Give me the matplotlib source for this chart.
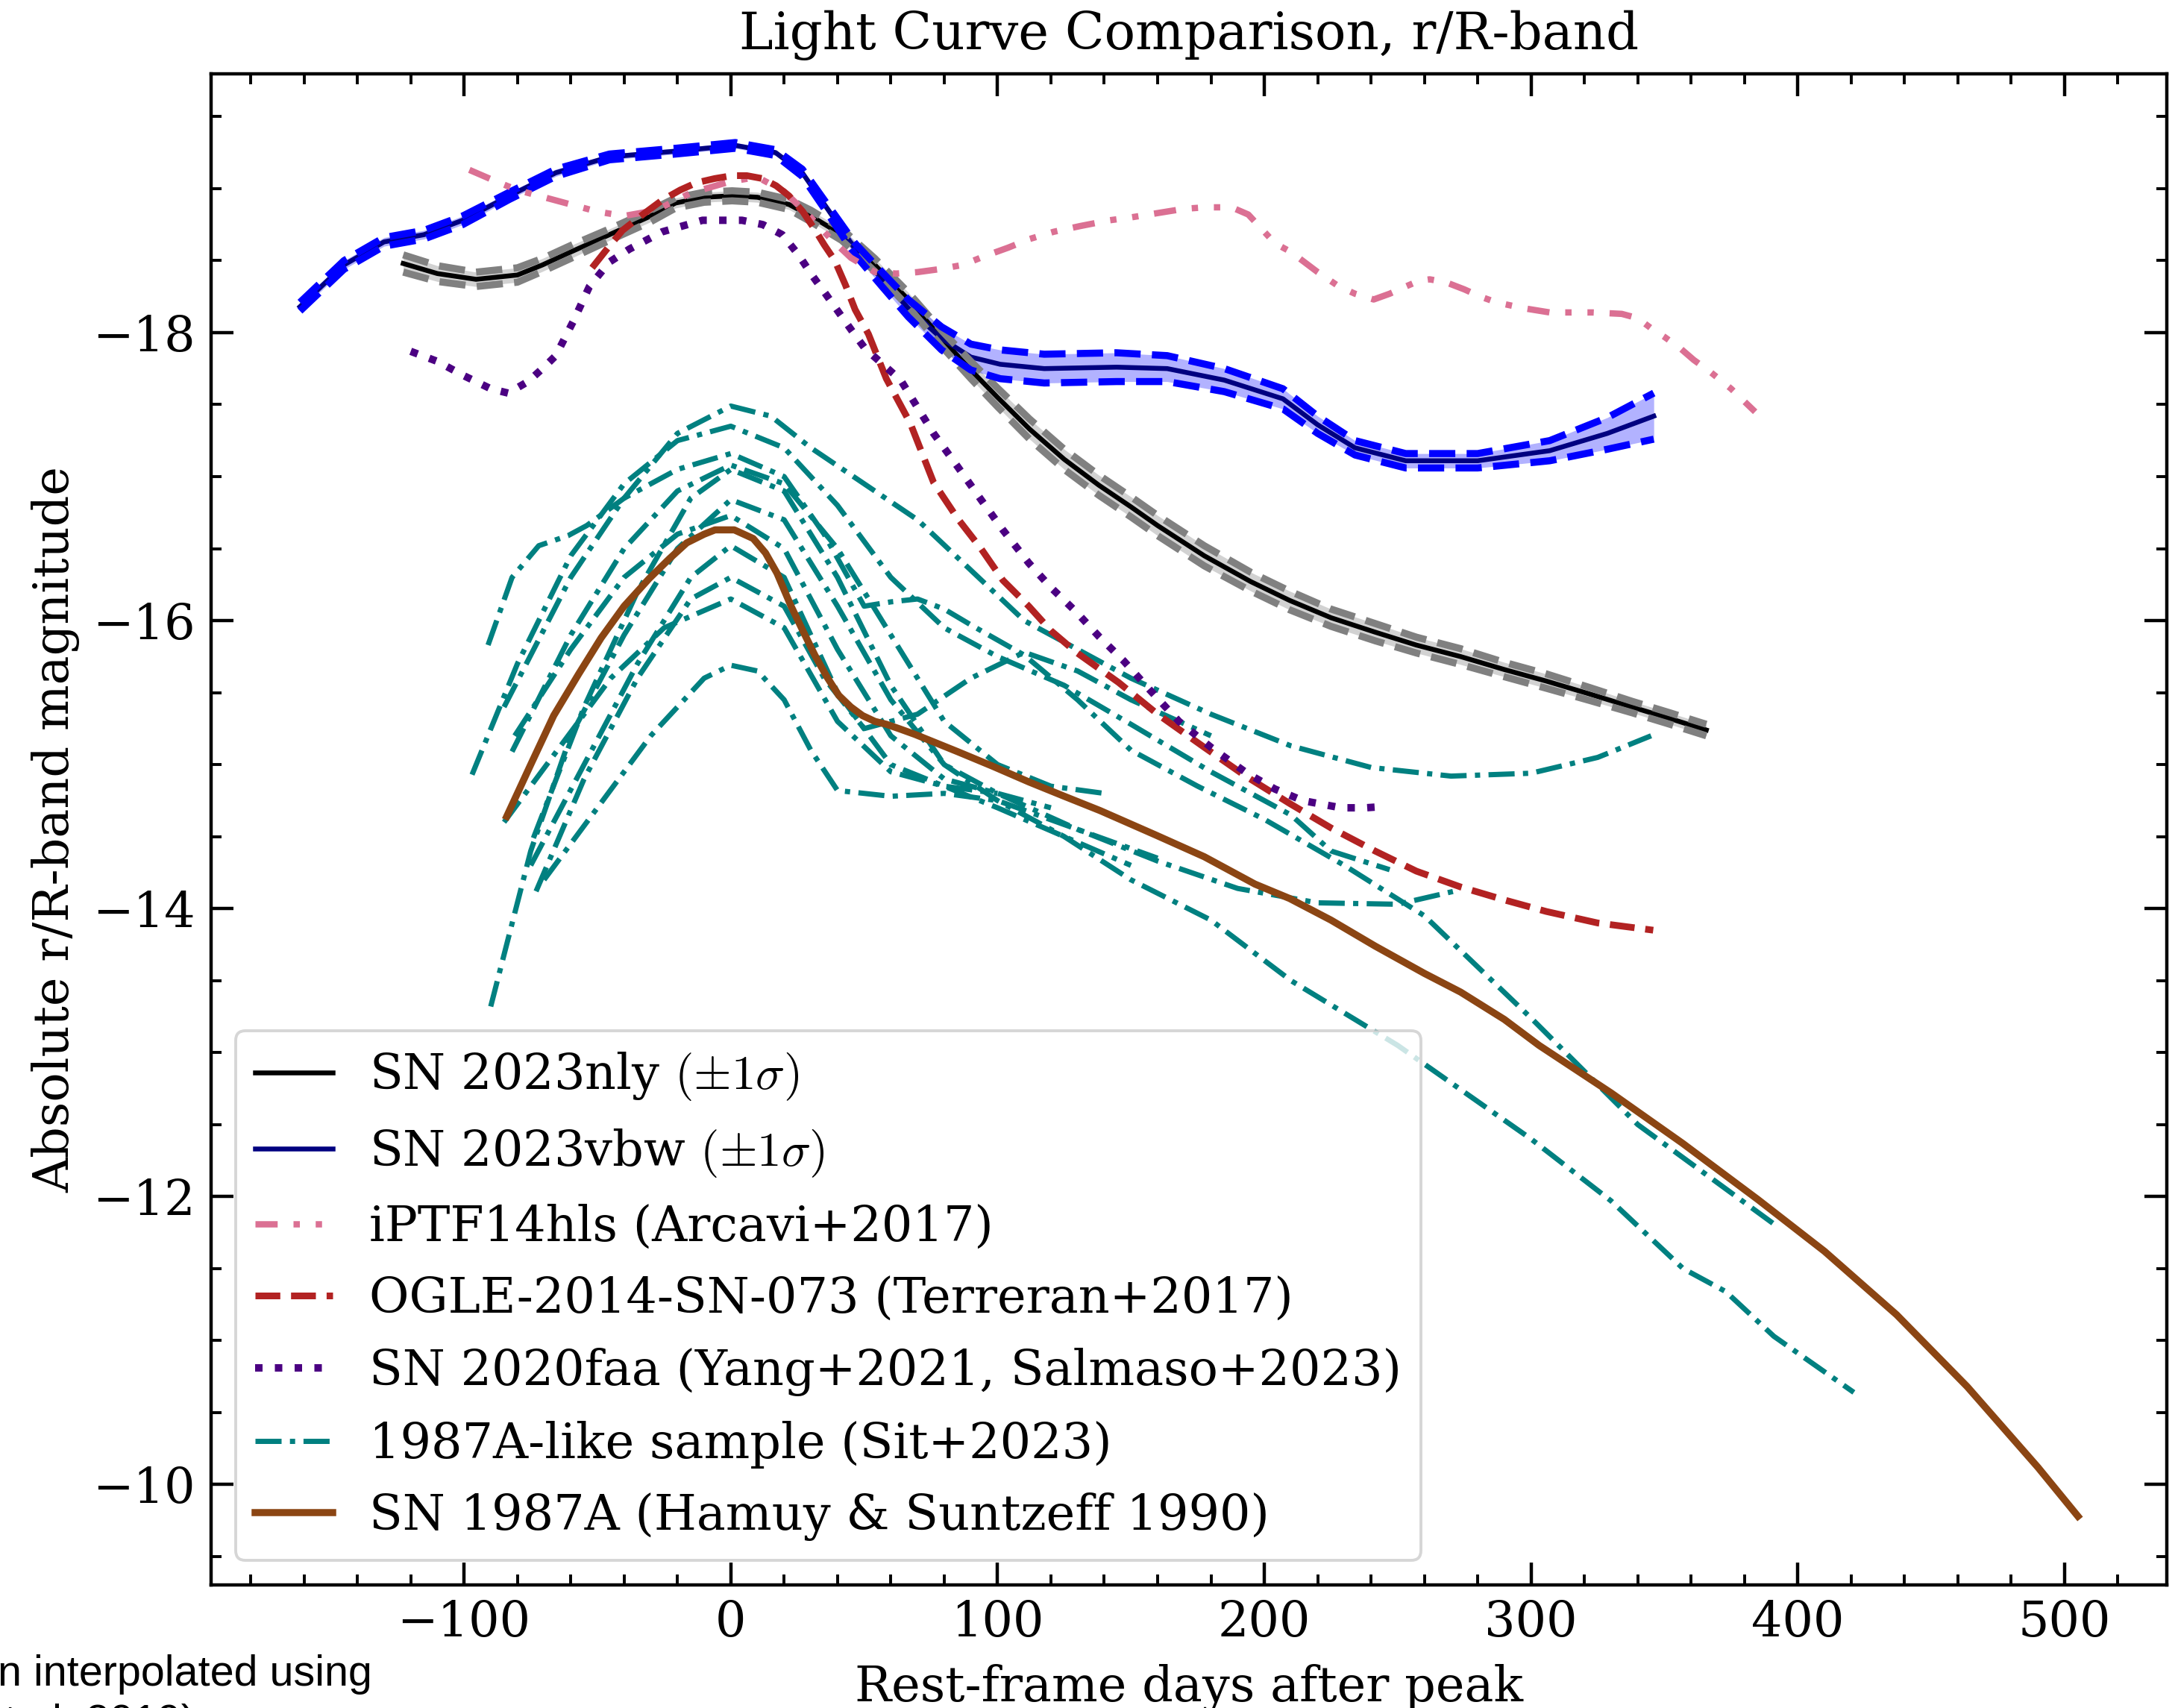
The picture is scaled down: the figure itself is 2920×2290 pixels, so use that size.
import numpy as np
import matplotlib
matplotlib.use("Agg")
import matplotlib.pyplot as plt

# ---------------- data ----------------
nly_x = [-122.8, -110, -95.5, -80, -70.6, -60, -45.5, -30, -20.7, -10, 0.5, 10, 21.8, 30, 41.6, 54,
         66.5, 79, 90, 100, 112, 125, 138, 150, 160, 177.5, 195, 209.5, 225, 241.5, 257, 273.6,
         290, 305.7, 322, 337.8, 352, 365.7]
nly_y = [-18.48, -18.41, -18.37, -18.40, -18.47, -18.56, -18.68, -18.81, -18.90, -18.94, -18.95,
         -18.94, -18.89, -18.81, -18.68, -18.47, -18.23, -17.96, -17.74, -17.55, -17.33, -17.12,
         -16.94, -16.79, -16.66, -16.45, -16.27, -16.14, -16.02, -15.92, -15.83, -15.75, -15.66,
         -15.58, -15.49, -15.40, -15.32, -15.24]
nly_err = [0.06, 0.055, 0.05, 0.05, 0.045, 0.045, 0.04, 0.04, 0.035, 0.035, 0.035, 0.035, 0.035,
           0.04, 0.04, 0.045, 0.05, 0.055, 0.06, 0.065, 0.07, 0.07, 0.07, 0.07, 0.07, 0.07, 0.065,
           0.065, 0.06, 0.06, 0.055, 0.055, 0.05, 0.05, 0.045, 0.04, 0.04, 0.04]

vbw_x = [-161.5, -145, -130, -115, -100.5, -83, -65.6, -45.5, -20.7, 1.7, 16.8, 26.8, 36.6, 46.6,
         56.7, 66.5, 79, 90, 101, 117.5, 144.6, 163.6, 185, 207, 220, 234, 253, 280, 307, 328.6, 346]
vbw_y = [-18.18, -18.47, -18.63, -18.68, -18.78, -18.95, -19.11, -19.22, -19.26, -19.30, -19.25,
         -19.11, -18.85, -18.58, -18.37, -18.17, -17.96, -17.83, -17.78, -17.75, -17.76, -17.75,
         -17.67, -17.54, -17.36, -17.20, -17.11, -17.11, -17.18, -17.30, -17.42]
vbw_err = [0.03, 0.03, 0.03, 0.03, 0.03, 0.025, 0.025, 0.02, 0.02, 0.02, 0.02, 0.025, 0.03, 0.04,
           0.05, 0.06, 0.08, 0.09, 0.1, 0.1, 0.1, 0.09, 0.08, 0.07, 0.06, 0.05, 0.05, 0.05, 0.07,
           0.11, 0.16]

hls_x = [-98, -88, -80, -70, -60, -50, -40, -28, -15, 0, 10, 20, 30, 37, 45, 54, 62, 70, 78, 87, 95,
         104, 112, 121, 131, 142, 150, 160, 170, 178, 184, 189, 194, 199, 204, 210, 215, 220, 228,
         234, 241, 247, 253, 258, 262, 268, 275, 281, 287, 297, 307, 315, 323, 334, 340, 345, 350,
         356, 361, 367, 375, 384]
hls_y = [-19.13, -19.05, -18.99, -18.94, -18.89, -18.84, -18.81, -18.85, -18.97, -19.05, -19.08,
         -18.98, -18.80, -18.66, -18.52, -18.42, -18.41, -18.42, -18.44, -18.47, -18.53, -18.59,
         -18.65, -18.70, -18.74, -18.78, -18.80, -18.83, -18.86, -18.87, -18.87, -18.86, -18.82,
         -18.72, -18.62, -18.56, -18.49, -18.42, -18.32, -18.27, -18.23, -18.27, -18.32, -18.36,
         -18.37, -18.35, -18.30, -18.25, -18.21, -18.17, -18.14, -18.14, -18.14, -18.13, -18.10,
         -18.03, -17.97, -17.89, -17.81, -17.73, -17.61, -17.45]

ogle_x = [-52, -46, -40.6, -33, -25.7, -19, -13, -6, 0.5, 6, 11.8, 17, 21.8, 27, 31.7, 35, 39, 43,
          46.6, 51.6, 58.3, 67.3, 76, 85, 93.8, 102, 111.7, 120, 129.5, 145.4, 160, 177.5, 193,
          209.5, 225, 241.5, 257, 273.6, 290, 305.7, 325, 345.8]
ogle_y = [-18.45, -18.59, -18.71, -18.82, -18.92, -18.99, -19.04, -19.07, -19.09, -19.09, -19.07,
          -19.02, -18.95, -18.84, -18.71, -18.61, -18.50, -18.33, -18.16, -17.99, -17.68, -17.37,
          -16.96, -16.71, -16.50, -16.28, -16.10, -15.93, -15.78, -15.57, -15.35, -15.12, -14.92,
          -14.73, -14.56, -14.40, -14.26, -14.15, -14.06, -13.98, -13.90, -13.85]

faa_x = [-120, -110, -100, -90, -83.5, -76, -70, -65.6, -59, -53, -45.5, -38, -25.7, -10.6, 4.2, 12,
         19.3, 25.4, 30.4, 35.5, 40.5, 45.5, 50.3, 57, 63.7, 70, 76, 85, 93.8, 102, 111.7, 120,
         129.5, 138, 147.3, 157, 168, 180, 193.5, 204, 214.4, 228.7, 238, 245.7]
faa_y = [-17.87, -17.80, -17.70, -17.61, -17.58, -17.66, -17.76, -17.84, -18.08, -18.32, -18.49,
         -18.58, -18.70, -18.78, -18.78, -18.75, -18.68, -18.54, -18.40, -18.27, -18.14, -18.01,
         -17.89, -17.78, -17.67, -17.48, -17.30, -17.07, -16.84, -16.63, -16.40, -16.23, -16.06,
         -15.89, -15.72, -15.52, -15.30, -15.12, -14.94, -14.83, -14.75, -14.70, -14.70, -14.71]

sn87_x = [-84, -75, -66.4, -57, -48.6, -40, -30.7, -23, -16.5, -10, -5.9, 1.3, 8.4, 13, 17.3, 22.6,
          27, 31.5, 36, 40.5, 45, 49.4, 54, 58.3, 63, 69, 77, 85, 98, 111.7, 125, 138.5, 159.4,
          177.5, 196.5, 209.5, 225, 241.5, 260, 273.6, 290, 303, 330, 356.8, 385, 410, 437, 463.5,
          490, 505]
sn87_y = [-14.64, -15.00, -15.34, -15.63, -15.88, -16.10, -16.29, -16.43, -16.54, -16.60, -16.63,
          -16.63, -16.57, -16.47, -16.33, -16.10, -15.93, -15.76, -15.61, -15.48, -15.40, -15.34,
          -15.30, -15.28, -15.25, -15.21, -15.15, -15.09, -14.99, -14.88, -14.78, -14.68, -14.51,
          -14.36, -14.17, -14.07, -13.92, -13.74, -13.55, -13.42, -13.23, -13.05, -12.72, -12.37,
          -11.98, -11.62, -11.18, -10.68, -10.12, -9.78]

# 1987A-like sample (Sit+2023)
sit_x = [
    [-85, -60, -40, -20, 0, 15, 30, 50, 70, 90, 110, 130, 150, 180, 210, 240, 270, 300, 325, 345],
    [-97, -80, -60, -40, -20, 0, 20, 40, 60, 80, 100, 125, 150, 180, 210, 225, 247],
    [-91, -82, -72, -61, -54, -40, -20, 0, 20, 35, 50, 60, 70, 80, 90, 110, 130, 150, 175, 200,
     230, 260, 300, 340, 391],
    [-82, -60, -40, -20, 0, 20, 40, 60, 80, 100, 120, 140],
    [-74, -55, -35, -15, 0, 20, 40, 60, 80, 100, 130, 160, 190, 220, 250, 271],
    [-90, -75, -60, -40, -20, 0, 20, 40, 60, 80, 100, 125, 150, 180, 210, 250, 300, 330, 357,
     373, 391, 421],
    [-81, -60, -40, -20, 0, 20, 40, 60, 80, 100, 120],
    [-75, -55, -35, -15, 0, 20, 40, 60, 80, 100, 125, 150],
    [-73, -55, -35, -15, 0, 20, 35, 50, 70, 90, 110, 130, 150, 180],
    [-85, -65, -45, -25, 0, 20, 40, 60, 80, 100],
    [-70, -50, -30, -10, 0, 10, 20, 30, 40, 60, 80, 100, 130, 160],
]
sit_y = [
    [-15.40, -16.30, -16.85, -17.30, -17.49, -17.42, -17.20, -16.95, -16.70, -16.35, -16.00,
     -15.80, -15.60, -15.35, -15.13, -14.98, -14.92, -14.94, -15.05, -15.20],
    [-14.93, -15.70, -16.45, -16.95, -17.25, -17.35, -17.20, -16.80, -16.30, -15.95, -15.75,
     -15.55, -15.28, -14.95, -14.65, -14.40, -14.27],
    [-15.83, -16.30, -16.52, -16.59, -16.66, -16.85, -17.05, -17.16, -17.00, -16.60, -16.10,
     -16.13, -16.15, -16.08, -15.97, -15.76, -15.45, -15.10, -14.85, -14.62, -14.30, -13.95,
     -13.24, -12.50, -11.81],
    [-15.09, -15.90, -16.50, -16.90, -17.08, -16.95, -16.50, -15.90, -15.30, -15.00, -14.85, -14.80],
    [-14.49, -15.40, -16.20, -16.85, -17.05, -16.90, -16.30, -15.55, -15.00, -14.80, -14.55,
     -14.33, -14.14, -14.04, -14.03, -14.12],
    [-13.32, -14.40, -15.20, -15.90, -16.50, -16.84, -16.70, -16.10, -15.45, -15.00, -14.75,
     -14.50, -14.20, -13.92, -13.50, -13.05, -12.40, -11.97, -11.50, -11.34, -11.03, -10.64],
    [-15.20, -15.80, -16.30, -16.60, -16.73, -16.50, -15.80, -15.20, -14.90, -14.80, -14.70],
    [-14.30, -15.00, -15.70, -16.30, -16.52, -16.30, -15.50, -15.00, -14.85, -14.70, -14.50, -14.30],
    [-14.12, -14.90, -15.60, -16.15, -16.30, -16.10, -15.60, -15.25, -15.35, -15.60, -15.78,
     -15.65, -15.45, -15.20],
    [-14.60, -15.10, -15.60, -15.95, -16.15, -15.95, -15.30, -14.95, -14.85, -14.80],
    [-14.20, -14.70, -15.20, -15.60, -15.69, -15.65, -15.45, -15.10, -14.82, -14.78, -14.80,
     -14.75, -14.55, -14.35],
]

labels = [r"SN 2023nly $(\pm1\sigma)$", r"SN 2023vbw $(\pm1\sigma)$",
          "iPTF14hls (Arcavi+2017)", "OGLE-2014-SN-073 (Terreran+2017)",
          "SN 2020faa (Yang+2021, Salmaso+2023)", "1987A-like sample (Sit+2023)",
          "SN 1987A (Hamuy & Suntzeff 1990)"]

# ---------------- style ----------------
DPI = 200
FS = 23.5
plt.rcParams.update({
    "font.family": ["DejaVu Serif"],
    "mathtext.fontset": "cm",
    "font.size": FS,
    "axes.linewidth": 1.6,
    "xtick.direction": "in", "ytick.direction": "in",
    "xtick.top": True, "ytick.right": True,
    "xtick.major.size": 10.8, "ytick.major.size": 10.8,
    "xtick.minor.size": 5.0, "ytick.minor.size": 5.0,
    "xtick.major.width": 1.6, "ytick.major.width": 1.6,
    "xtick.minor.width": 1.4, "ytick.minor.width": 1.4,
    "xtick.major.pad": 7.0, "ytick.major.pad": 7.5,
    "xtick.labelsize": FS, "ytick.labelsize": FS,
})

fig = plt.figure(figsize=(2920 / DPI, 2290 / DPI), dpi=DPI)
ax = fig.add_axes([283 / 2920, 1 - 2125 / 2290, (2905 - 283) / 2920, (2125 - 99) / 2290])

px = 72.0 / DPI  # points per pixel

# SN 2023nly with band
nx, ny, ne = np.array(nly_x), np.array(nly_y), np.array(nly_err)
ax.fill_between(nx, ny - ne, ny + ne, color="gray", alpha=0.35, lw=0, zorder=3)
l_nly, = ax.plot(nx, ny, color="black", lw=6.5 * px, zorder=4)
ax.plot(nx, ny - ne, color="gray", ls="--", lw=9.5 * px, zorder=5)
ax.plot(nx, ny + ne, color="gray", ls="--", lw=9.5 * px, zorder=5)

# SN 2023vbw with band
vx, vy, ve = np.array(vbw_x), np.array(vbw_y), np.array(vbw_err)
ax.fill_between(vx, vy - ve, vy + ve, color="blue", alpha=0.3, lw=0, zorder=3)
l_vbw, = ax.plot(vx, vy, color="navy", lw=6.5 * px, zorder=4)
ax.plot(vx, vy - ve, color="blue", ls="--", lw=9.5 * px, zorder=5)
ax.plot(vx, vy + ve, color="blue", ls="--", lw=9.5 * px, zorder=5)

# comparison objects
l_hls, = ax.plot(hls_x, hls_y, color="palevioletred", lw=8.5 * px,
                 ls=(0, (3.5, 2.5, 1, 2.5, 1, 2.5)), zorder=6)
l_ogle, = ax.plot(ogle_x, ogle_y, color="firebrick", lw=9 * px, ls="--", zorder=6)
l_faa, = ax.plot(faa_x, faa_y, color="indigo", lw=10 * px, ls=":", zorder=6)

l_sit = None
for xs, ys in zip(sit_x, sit_y):
    l, = ax.plot(xs, ys, color="teal", lw=7 * px, ls=(0, (5, 1.6, 1, 1.6)), zorder=2)
    if l_sit is None:
        l_sit = l

l_87, = ax.plot(sn87_x, sn87_y, color="saddlebrown", lw=9.5 * px, zorder=7)

ax.margins(x=0.05, y=0.05)
ax.invert_yaxis()
ax.xaxis.set_major_locator(matplotlib.ticker.MultipleLocator(100))
ax.xaxis.set_minor_locator(matplotlib.ticker.MultipleLocator(20))
ax.yaxis.set_major_locator(matplotlib.ticker.MultipleLocator(2))
ax.yaxis.set_minor_locator(matplotlib.ticker.MultipleLocator(0.5))

ax.set_xlabel("Rest-frame days after peak", fontsize=FS, labelpad=8)
ax.set_ylabel("Absolute r/R-band magnitude", fontsize=FS, labelpad=6)
ax.set_title("Light Curve Comparison, r/R-band", fontsize=24.8, pad=12)

leg = ax.legend([l_nly, l_vbw, l_hls, l_ogle, l_faa, l_sit, l_87], labels,
                loc="lower left", fontsize=FS, handlelength=1.6, handletextpad=0.75,
                borderaxespad=0.5, labelspacing=0.5, framealpha=0.8, fancybox=True)
leg.get_frame().set_edgecolor("0.8")
leg.get_frame().set_linewidth(1.4)
leg.set_zorder(10)

# partially visible caption text at the bottom-left edge
fig.text(-0.001, 1 - 2260 / 2290, "n interpolated using", fontsize=20.7,
         family=["Liberation Sans", "DejaVu Sans"], va="baseline", ha="left")
fig.text(0.002, (2290 - 2326) / 2290, "t al. 2019)", fontsize=20.7,
         family=["Liberation Sans", "DejaVu Sans"], va="baseline", ha="left")

fig.savefig("out.png", dpi=DPI)
